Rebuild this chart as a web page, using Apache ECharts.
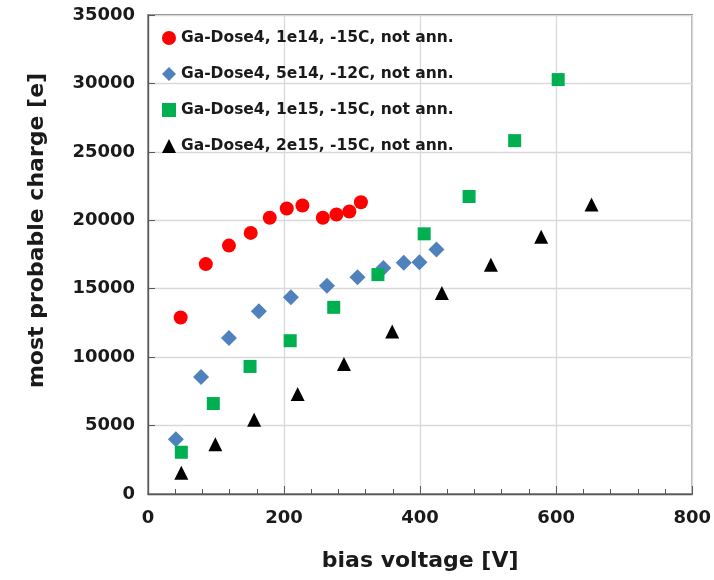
<!DOCTYPE html>
<html>
<head>
<meta charset="utf-8" />
<title>most probable charge vs bias voltage</title>
<script src="https://cdn.jsdelivr.net/npm/echarts@6/dist/echarts.min.js"></script>
<style>
  html, body { margin: 0; padding: 0; background: #fff; }
  #chartmain { width: 714px; height: 580px; }
</style>
</head>
<body>
<div id="chartmain"></div>
<script type="text/javascript">
  // data: [bias voltage V, most probable charge e]
  var dose1e14 = [[48, 12900], [85, 16800], [119, 18150], [151, 19080], [179, 20180], [204, 20860],
                  [227, 21080], [257, 20180], [277, 20420], [296, 20640], [313, 21320]];
  var dose5e14 = [[41, 4000], [78, 8550], [119, 11400], [163, 13350], [210, 14370], [263, 15220],
                  [308, 15830], [346, 16520], [376, 16890], [399, 16930], [424, 17860]];
  var dose1e15 = [[49, 3050], [96, 6610], [150, 9320], [209, 11200], [273, 13640], [338, 16030],
                  [406, 19010], [472, 21740], [539, 25820], [603, 30280]];
  var dose2e15 = [[49, 1560], [99, 3640], [156, 5420], [220, 7300], [288, 9500], [359, 11880],
                  [432, 14690], [504, 16760], [578, 18790], [652, 21150]];

  var seriesNames = ['Ga-Dose4, 1e14, -15C, not ann.', 'Ga-Dose4, 5e14, -12C, not ann.',
                     'Ga-Dose4, 1e15, -15C, not ann.', 'Ga-Dose4, 2e15, -15C, not ann.'];

  var font = 'DejaVu Sans';
  var frameColor = '#595959';

  function scatter(name, data, symbol, size, color) {
    return {
      name: name,
      type: 'scatter',
      data: data,
      symbol: symbol,
      symbolSize: size,
      itemStyle: { color: color, opacity: 1 },
      emphasis: { disabled: true }
    };
  }

  var myChart = echarts.init(document.getElementById('chartmain'));
  var option = {
    backgroundColor: '#fff',
    animation: false,
    grid: {
      left: 148, right: 21, top: 15, bottom: 86,
      show: true, borderColor: frameColor, borderWidth: 1.3
    },
    legend: {
      orient: 'vertical',
      left: 157, top: 25,
      itemGap: 20,
      itemWidth: 14, itemHeight: 14,
      textStyle: { fontFamily: font, fontWeight: 'bold', fontSize: 15.5, color: '#1a1a1a' },
      data: [
        { name: seriesNames[0], icon: 'circle' },
        { name: seriesNames[1], icon: 'diamond' },
        { name: seriesNames[2], icon: 'rect' },
        { name: seriesNames[3], icon: 'triangle' }
      ]
    },
    xAxis: {
      type: 'value',
      min: 0, max: 800, interval: 200,
      name: 'bias voltage [V]',
      nameLocation: 'middle',
      nameGap: 56,
      nameTextStyle: { fontFamily: font, fontWeight: 'bold', fontSize: 22, color: '#1a1a1a' },
      axisLine: { show: true, lineStyle: { color: frameColor, width: 1.3 } },
      axisTick: { show: true, inside: true, length: 8, lineStyle: { color: frameColor } },
      minorTick: { show: true, splitNumber: 5, length: 5, lineStyle: { color: frameColor } },
      axisLabel: { fontFamily: font, fontWeight: 'bold', fontSize: 18, color: '#1a1a1a', margin: 15 },
      splitLine: { show: true, lineStyle: { color: '#d9d9d9', width: 1.3 } }
    },
    yAxis: {
      type: 'value',
      min: 0, max: 35000, interval: 5000,
      name: 'most probable charge [e]',
      nameLocation: 'middle',
      nameGap: 100,
      nameTextStyle: { fontFamily: font, fontWeight: 'bold', fontSize: 22, color: '#1a1a1a', padding: [0, 0, 0, 48] },
      axisLine: { show: true, lineStyle: { color: frameColor, width: 1.3 } },
      axisTick: { show: true, inside: true, length: 7, lineStyle: { color: frameColor } },
      axisLabel: {
        fontFamily: font, fontWeight: 'bold', fontSize: 18, color: '#1a1a1a', margin: 13,
        formatter: function (v) { return String(v); }
      },
      splitLine: { show: true, lineStyle: { color: '#d9d9d9', width: 1.3 } }
    },
    series: [
      scatter(seriesNames[0], dose1e14, 'circle', 14, '#ff0000'),
      scatter(seriesNames[1], dose5e14, 'diamond', 16, '#4f81bd'),
      scatter(seriesNames[2], dose1e15, 'rect', 13, '#00b050'),
      scatter(seriesNames[3], dose2e15, 'triangle', 14, '#000000')
    ]
  };
  myChart.setOption(option);
</script>
</body>
</html>
